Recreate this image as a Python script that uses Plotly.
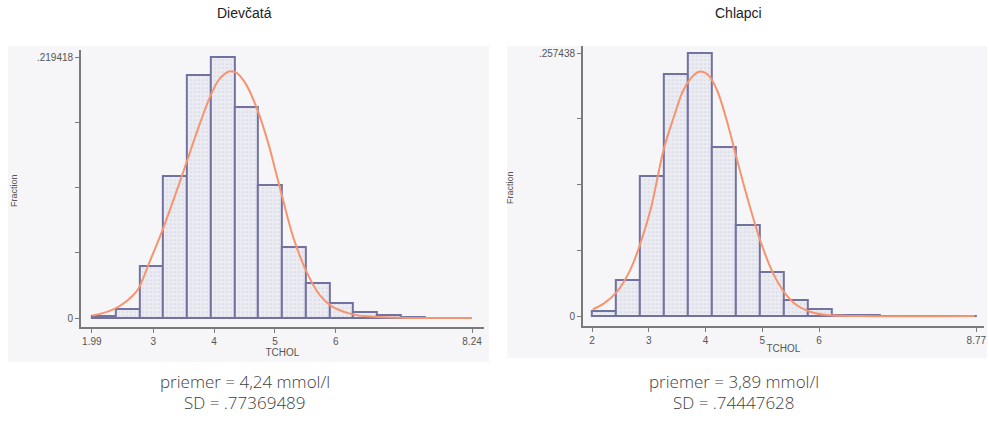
import plotly.graph_objects as go

# ---------------- data ----------------
girls_title = "Dievčatá"
boys_title = "Chlapci"

girls_min, girls_max, girls_nbins = 1.99, 8.24, 16
girls_frac = [0.0014, 0.0079, 0.0438, 0.1194, 0.2040, 0.219418, 0.1770, 0.1118,
              0.0593, 0.0295, 0.0124, 0.0048, 0.0028, 0.0011, 0.0, 0.0]
girls_curve_x = [1.99, 2.24, 2.45, 2.67, 2.76, 2.95, 3.16, 3.47, 3.77, 3.96, 4.09, 4.26,
                 4.37, 4.53, 4.72, 4.89, 5.02, 5.12, 5.30, 5.52, 5.74, 5.95, 6.23, 6.50,
                 7.05, 8.24]
girls_curve_y = [0.0020, 0.0051, 0.0101, 0.0191, 0.0250, 0.0485, 0.0750, 0.1194, 0.1640,
                 0.1890, 0.2010, 0.2074, 0.2060, 0.1960, 0.1740, 0.1470, 0.1217, 0.1020,
                 0.0680, 0.0388, 0.0191, 0.0093, 0.0037, 0.0014, 0.0003, 0.0]
girls_xticks = [1.99, 3, 4, 5, 6, 8.24]
girls_xticktext = ["1.99", "3", "4", "5", "6", "8.24"]
girls_ymax_label = ".219418"

boys_min, boys_max, boys_nbins = 2.0, 8.77, 16
boys_frac = [0.0052, 0.0353, 0.1372, 0.2369, 0.257438, 0.1653, 0.0889, 0.0428,
             0.0160, 0.0072, 0.0013, 0.0007, 0.0, 0.0, 0.0, 0.0]
boys_curve_x = [2.01, 2.21, 2.44, 2.67, 2.85, 3.03, 3.26, 3.44, 3.61, 3.79, 3.905, 4.05,
                4.20, 4.37, 4.54, 4.73, 4.96, 5.19, 5.40, 5.60, 5.84, 6.13, 6.72, 8.74]
boys_curve_y = [0.0065, 0.0124, 0.0239, 0.0450, 0.0710, 0.1040, 0.1630, 0.1950, 0.2215,
                0.2360, 0.2395, 0.2360, 0.2215, 0.1920, 0.1560, 0.1170, 0.0745, 0.0418,
                0.0222, 0.0108, 0.0042, 0.0010, 0.0, 0.0]
boys_xticks = [2, 3, 4, 5, 6, 8.77]
boys_xticktext = ["2", "3", "4", "5", "6", "8.77"]
boys_ymax_label = ".257438"

girls_stats = ["priemer = 4,24 mmol/l", "SD = .77369489"]
boys_stats = ["priemer = 3,89 mmol/l", "SD = .74447628"]

# ---------------- figure ----------------
W, H = 989, 426
fig = go.Figure()

BAR_LINE = "#7272a0"
CURVE = "#f7946f"
AX = "#7a7a7a"
TXT = "#555555"


def px_x(p):
    return p / W


def px_y(p):
    return 1 - p / H


def add_panel(n, vmin, vmax, nb, frac, cx, cy):
    w = (vmax - vmin) / nb
    centers = [vmin + w * (i + 0.5) for i in range(nb)]
    xa = "x" if n == 1 else f"x{n}"
    ya = "y" if n == 1 else f"y{n}"
    fig.add_trace(go.Bar(
        x=centers, y=frac, width=w, xaxis=xa, yaxis=ya,
        marker=dict(color="#e9e9f1", line=dict(color=BAR_LINE, width=2),
                    pattern=dict(shape=".", fgcolor="#b9b9d2", bgcolor="#ebebf2",
                                 size=4, solidity=0.15)),
        showlegend=False, hoverinfo="skip"))
    fig.add_trace(go.Scatter(
        x=cx, y=cy, xaxis=xa, yaxis=ya, mode="lines",
        line=dict(color=CURVE, width=2, shape="spline", smoothing=1.0),
        showlegend=False, hoverinfo="skip"))


add_panel(1, girls_min, girls_max, girls_nbins, girls_frac, girls_curve_x, girls_curve_y)
add_panel(2, boys_min, boys_max, boys_nbins, boys_frac, boys_curve_x, boys_curve_y)

tickfont = dict(family="Liberation Sans, Arial, sans-serif", size=10, color=TXT)


def make_x(left_px, right_px, v0, p0, ppu, ticks, ticktext, anchor):
    rmin = v0 - (p0 - left_px) / ppu
    rmax = v0 + (right_px - p0) / ppu
    return dict(domain=[px_x(left_px), px_x(right_px)], range=[rmin, rmax],
                anchor=anchor, showline=True, linecolor=AX, linewidth=1.5,
                showgrid=False, zeroline=False, ticks="outside", ticklen=4,
                tickcolor=AX, tickwidth=1, tickvals=ticks, ticktext=ticktext,
                tickfont=tickfont, title=dict(text="TCHOL", font=tickfont, standoff=0),
                fixedrange=True)


def make_y(top_px, bottom_px, zero_px, vmax, vmax_px, label, anchor):
    ppu = (zero_px - vmax_px) / vmax
    rmax = vmax + (vmax_px - top_px) / ppu
    rmin = -(bottom_px - zero_px) / ppu
    tv = [0, vmax * 0.25, vmax * 0.5, vmax * 0.75, vmax]
    return dict(domain=[px_y(bottom_px), px_y(top_px)], range=[rmin, rmax],
                anchor=anchor, showline=True, linecolor=AX, linewidth=1.5,
                showgrid=False, zeroline=False, ticks="outside", ticklen=4,
                tickcolor=AX, tickwidth=1, tickvals=tv,
                ticktext=["0", "", "", "", label], tickfont=tickfont,
                fixedrange=True)


fig.update_layout(
    xaxis=make_x(81, 485, girls_min, 92, (473 - 92) / (girls_max - girls_min),
                 girls_xticks, girls_xticktext, "y"),
    yaxis=make_y(50, 327, 318, girls_frac[5], 57, girls_ymax_label, "x"),
    xaxis2=make_x(584, 986, boys_min, 593.3, (978.3 - 593.3) / (boys_max - boys_min),
                  boys_xticks, boys_xticktext, "y2"),
    yaxis2=make_y(46, 326, 316, boys_frac[4], 53.3, boys_ymax_label, "x2"),
)

fig.update_layout(
    width=W, height=H, margin=dict(l=0, r=0, t=0, b=0),
    paper_bgcolor="white", plot_bgcolor="rgba(0,0,0,0)", bargap=0,
    shapes=[
        dict(type="rect", xref="paper", yref="paper", layer="below",
             x0=px_x(8), x1=px_x(490), y0=px_y(362), y1=px_y(46),
             fillcolor="#f6f6f8", line=dict(width=0)),
        dict(type="rect", xref="paper", yref="paper", layer="below",
             x0=px_x(508), x1=px_x(989), y0=px_y(358), y1=px_y(46),
             fillcolor="#f6f6f8", line=dict(width=0)),
    ],
)

ann = []
title_font = dict(family="Liberation Sans, Arial, sans-serif", size=14, color="#222222")
ann.append(dict(text=girls_title, x=px_x(245), y=px_y(13), xref="paper", yref="paper",
                showarrow=False, font=title_font, xanchor="center", yanchor="middle"))
ann.append(dict(text=boys_title, x=px_x(740), y=px_y(13), xref="paper", yref="paper",
                showarrow=False, font=title_font, xanchor="center", yanchor="middle"))
yt_font = dict(family="Liberation Sans, Arial, sans-serif", size=9, color=TXT)
ann.append(dict(text="Fraction", x=px_x(7), y=px_y(190), xref="paper", yref="paper",
                showarrow=False, font=yt_font, textangle=-90))
ann.append(dict(text="Fraction", x=px_x(511), y=px_y(187), xref="paper", yref="paper",
                showarrow=False, font=yt_font, textangle=-90))
stat_font = dict(family="Open Sans, Noto Sans, sans-serif", size=17, color="#404040", weight=300)
for cx, lines in ((245, girls_stats), (735, boys_stats)):
    ann.append(dict(text=lines[0], x=px_x(cx), y=px_y(381), xref="paper", yref="paper",
                    showarrow=False, font=stat_font, xanchor="center", yanchor="middle"))
    ann.append(dict(text=lines[1], x=px_x(cx), y=px_y(402), xref="paper", yref="paper",
                    showarrow=False, font=stat_font, xanchor="center", yanchor="middle"))
fig.update_layout(annotations=ann)

fig.write_html("out.html", config={"displayModeBar": False},
               post_script="document.body.style.margin='0px';")
